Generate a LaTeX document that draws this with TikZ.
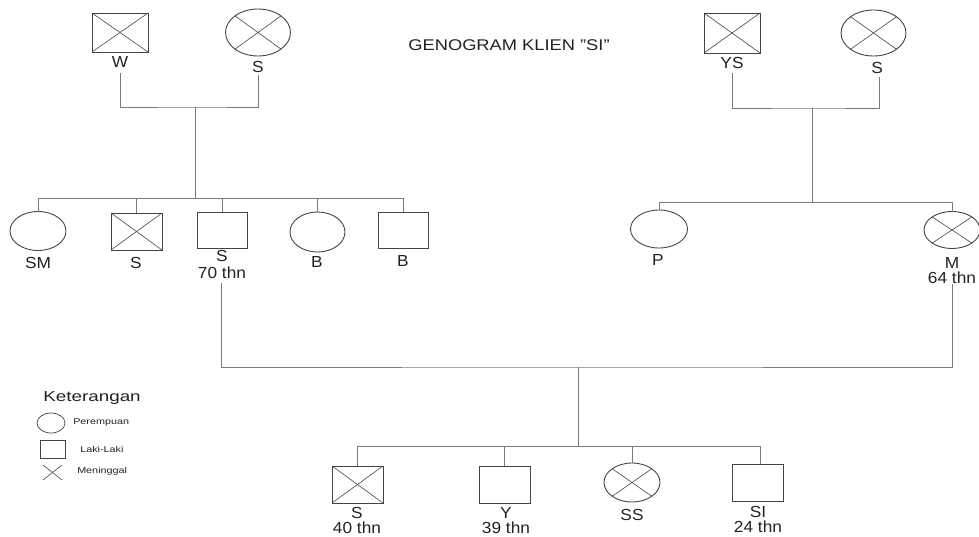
\documentclass[tikz,border=0pt]{standalone}
\usepackage{fontspec}
\setmainfont{Liberation Sans}
\usetikzlibrary{shapes.geometric}
\definecolor{shapec}{HTML}{444444}
\definecolor{linec}{HTML}{7A7A7A}
\definecolor{textc}{HTML}{222222}
\tikzset{
  male/.style={draw=shapec, line width=0.9pt, rectangle, inner sep=0pt, outer sep=0pt, minimum width=51pt, minimum height=37pt},
  female/.style={draw=shapec, line width=0.9pt, ellipse, inner sep=0pt, outer sep=0pt, minimum width=56pt, minimum height=39pt},
  lab/.style={text=textc, font=\fontsize{16}{17}\selectfont, inner sep=0pt, xscale=1.08},
  conn/.style={draw=linec, line width=1pt},
  xline/.style={draw=shapec, line width=0.6pt},
  legt/.style={text=textc, font=\fontsize{8.5}{9}\selectfont, inner sep=0pt, xscale=1.27, anchor=west},
}
\newcommand{\crossit}[1]{\draw[xline] (#1.north west) -- (#1.south east); \draw[xline] (#1.north east) -- (#1.south west);}
\begin{document}
\begin{tikzpicture}[x=1pt,y=-1pt]
\useasboundingbox (0,0) rectangle (979,536);
% title
\node[text=textc, font=\fontsize{15.5}{16}\selectfont, xscale=1.18, inner sep=0pt] (title) at (509,45) {GENOGRAM KLIEN \symbol{34}SI\symbol{34}};

% ---- top left parents
\node[male, minimum width=56pt, minimum height=39pt] (W) at (120,32.5) {};
\crossit{W}
\node[lab] (Wl) at (120,62) {W};
\node[female, minimum width=65pt, minimum height=47pt] (S1) at (258,32.5) {};
\crossit{S1}
\node[lab] (S1l) at (258,67) {S};
\coordinate (w1) at (120,73);
\coordinate (s1) at (258,75);
\coordinate (jl) at (195,107);
\coordinate (bl) at (195,198);
\draw[conn] (w1) |- (jl) -| (s1);
\draw[conn] (jl) -- (bl);

% ---- children left
\node[female] (SM) at (38,231) {};
\node[lab] at (38,263) {SM};
\node[male] (S2) at (136.5,231.5) {};
\crossit{S2}
\node[lab] at (136,263) {S};
\node[male, minimum width=50pt, minimum height=36pt] (S3) at (222,230) {};
\node[lab] at (222,256) {S};
\node[lab] (S3a) at (222,273) {70 thn};
\node[female, minimum width=55pt, minimum height=40pt] (B1) at (317.5,232) {};
\node[lab] at (317,262) {B};
\node[male, minimum width=50pt, minimum height=36pt] (B2) at (403,230) {};
\node[lab] at (403,261) {B};
\draw[conn] (SM.north) -- (SM.north |- bl) -- (B2.north |- bl) -- (B2.north);
\draw[conn] (S2.north) -- (S2.north |- bl);
\draw[conn] (S3.north) -- (S3.north |- bl);
\draw[conn] (B1.north) -- (B1.north |- bl);

% ---- top right parents
\node[male, minimum width=56pt, minimum height=40pt] (YS) at (732,33) {};
\crossit{YS}
\node[lab] at (732,63) {YS};
\node[female, minimum width=65pt, minimum height=46pt] (S4) at (873.5,33) {};
\crossit{S4}
\node[lab] at (877,68) {S};
\coordinate (ys1) at (732,73);
\coordinate (s4) at (879,77);
\coordinate (jr) at (812,108);
\coordinate (br) at (812,202);
\draw[conn] (ys1) |- (jr) -| (s4);
\draw[conn] (jr) -- (br);

% ---- children right
\node[female, minimum width=57pt, minimum height=38pt] (P) at (659,229) {};
\node[lab] at (658,260) {P};
\node[female, minimum width=56pt, minimum height=37pt] (M) at (952,230) {};
\crossit{M}
\node[lab] at (952,263) {M};
\node[lab] (Ma) at (952,278) {64 thn};
\draw[conn] (P.north) -- (P.north |- br) -- (M.north |- br) -- (M.north);

% ---- marriage
\coordinate (sa) at (221,283);
\coordinate (ma) at (952,284);
\coordinate (jm) at (578,367);
\coordinate (bm) at (578,446);
\draw[conn] (sa) |- (jm) -| (ma);
\draw[conn] (jm) -- (bm);

% ---- grandchildren
\node[male] (S5) at (357.5,484.5) {};
\crossit{S5}
\node[lab] at (357,513) {S};
\node[lab] at (357,528) {40 thn};
\node[male] (Y) at (504.5,484.5) {};
\node[lab] at (506,513) {Y};
\node[lab] at (506,528) {39 thn};
\node[female] (SS) at (632,482.5) {};
\crossit{SS}
\node[lab] at (632,515) {SS};
\node[male] (SI) at (757.5,482.5) {};
\node[lab] at (758,512) {SI};
\node[lab] at (758,527) {24 thn};
\coordinate (sit) at (760,464);
\draw[conn] (S5.north) -- (S5.north |- bm) -- (sit |- bm) -- (sit);
\draw[conn] (Y.north) -- (Y.north |- bm);
\draw[conn] (SS.north) -- (SS.north |- bm);

% ---- legend
\node[text=textc, font=\fontsize{14.5}{15}\selectfont, xscale=1.3, inner sep=0pt, anchor=west] (ket) at (43,398) {Keterangan};
\node[female, minimum width=28pt, minimum height=20pt, line width=0.7pt] (lf) at (51,423) {};
\node[legt] at (73,422) {Perempuan};
\node[male, minimum width=25pt, minimum height=18pt, line width=0.7pt] (lm) at (52.5,449) {};
\node[legt] at (80,449) {Laki-Laki};
\coordinate (lx1) at (43,465);
\coordinate (lx2) at (62,480);
\draw[xline] (lx1) -- (lx2);
\draw[xline] (lx1 |- lx2) -- (lx2 |- lx1);
\node[legt] at (77,471) {Meninggal};
\end{tikzpicture}
\end{document}
